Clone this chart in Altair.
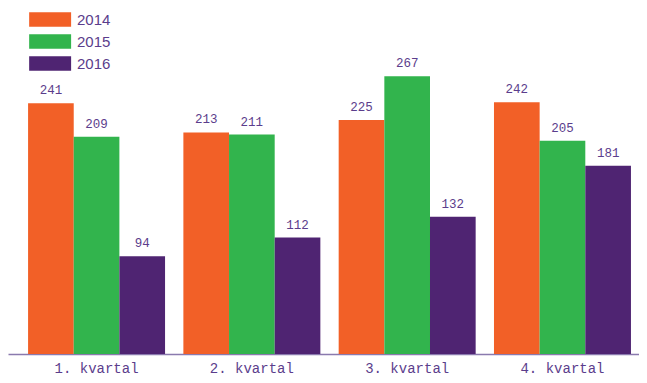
import altair as alt
import pandas as pd

quarters = ["1. kvartal", "2. kvartal", "3. kvartal", "4. kvartal"]
years = ["2014", "2015", "2016"]
values_2014 = [241, 213, 225, 242]
values_2015 = [209, 211, 267, 205]
values_2016 = [94, 112, 132, 181]
colors = ["#F26027", "#32B44D", "#4F2472"]

rows = []
for y, vals in zip(years, [values_2014, values_2015, values_2016]):
    for q, v in zip(quarters, vals):
        rows.append({"kvartal": q, "år": y, "verdi": v})
df = pd.DataFrame(rows)

TEXT = "#5B3D8C"

xenc = alt.X("kvartal:N", sort=quarters, title=None,
             scale=alt.Scale(paddingInner=0.118, paddingOuter=0.0905, align=0.714),
             axis=alt.Axis(labelAngle=0, labelFont="Liberation Mono", labelFontSize=14,
                           labelColor=TEXT, ticks=False, domainColor="#8A7AAE",
                           domainWidth=1.5, labelPadding=7))
xoff = alt.XOffset("år:N", sort=years, scale=alt.Scale(paddingInner=0, paddingOuter=0))
yenc = alt.Y("verdi:Q", title=None, scale=alt.Scale(domain=[0, 300], nice=False),
             axis=None)

bars = alt.Chart(df).mark_bar().encode(
    x=xenc, xOffset=xoff, y=yenc,
    color=alt.Color("år:N", sort=years,
                    scale=alt.Scale(domain=years, range=colors),
                    legend=alt.Legend(title=None, orient="none", legendX=21, legendY=-30,
                                      symbolType="M-1,-1H4.71V1H-1Z", symbolSize=216,
                                      symbolStrokeWidth=0, symbolOpacity=1,
                                      labelFont="Liberation Sans", labelFontSize=15,
                                      labelColor=TEXT, labelOffset=33, rowPadding=6)),
)

labels = alt.Chart(df).mark_text(baseline="bottom", dy=-6, font="Liberation Mono",
                                 fontSize=12.5, color=TEXT).encode(
    x=xenc, xOffset=xoff, y=yenc, text="verdi:Q"
)

chart = (bars + labels).properties(
    width=631, height=312,
    autosize=alt.AutoSizeParams(type="none"),
    padding={"left": 0, "top": 34, "right": 0, "bottom": 21},
).configure_view(stroke=None)

chart.save("out.html", embed_options={"renderer": "svg", "actions": False})
